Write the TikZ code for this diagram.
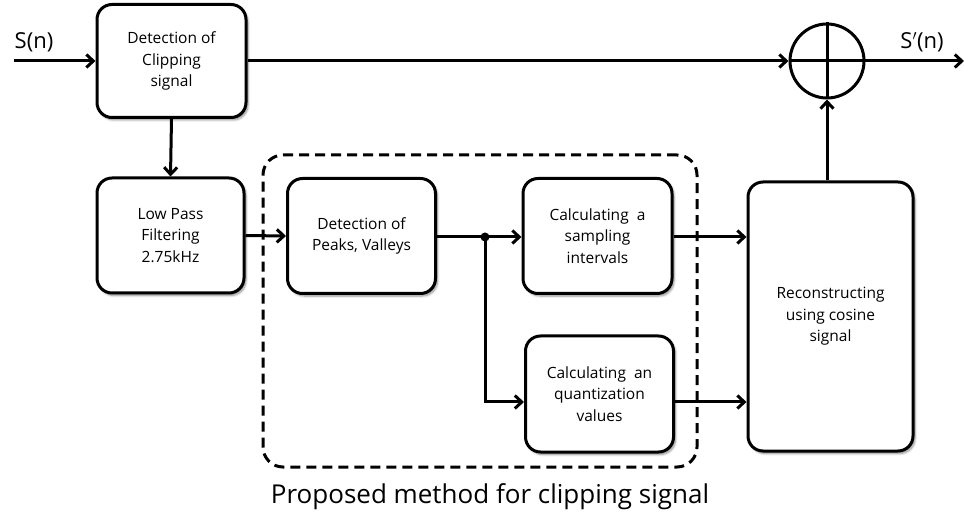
\documentclass[tikz,border=0pt]{standalone}
\usepackage{fontspec}
\setmainfont{Open Sans}
\usetikzlibrary{arrows.meta,shadows.blur,calc}
\begin{document}
\begin{tikzpicture}[x=1pt,y=-1pt,
  blk/.style={draw=black, line width=3pt, rounded corners=15pt, fill=white,
    align=center, font=\fontsize{15.5}{21.5}\selectfont, inner sep=2pt,
    blur shadow={shadow xshift=2pt, shadow yshift=-2.5pt, shadow blur steps=6, shadow opacity=45}},
  conn/.style={line width=3pt, -{Straight Barb[length=7pt,width=13pt,line width=3pt]}},
  lbl/.style={font=\fontsize{22}{24}\selectfont, inner sep=0pt}
]
\useasboundingbox (0,0) rectangle (964,518);
\node[blk, minimum width=149pt, minimum height=113pt] (clip) at (171.5,61) {Detection of\\Clipping\\signal};
\node[blk, minimum width=147pt, minimum height=115pt] (lpf) at (170.5,235.5) {Low Pass\\Filtering\\2.75kHz};
\node[blk, minimum width=148pt, minimum height=115pt] (peaks) at (361.5,236) {Detection of\\Peaks, Valleys};
\node[blk, minimum width=149pt, minimum height=115pt] (samp) at (597.5,236) {Calculating~ a\\sampling\\intervals};
\node[blk, minimum width=148pt, minimum height=116pt] (quant) at (599.5,394) {Calculating~ an\\quantization\\values};
\node[blk, minimum width=165pt, minimum height=269pt] (recon) at (830.5,316.5) {Reconstructing\\using cosine\\signal};
\node[draw, circle, line width=3pt, minimum size=74pt, inner sep=0pt] (sum) at (827,61) {};
\draw[line width=3pt] (sum.north) -- (sum.south) (sum.west) -- (sum.east);
% dashed region
\node[draw, dashed, line width=3pt, dash pattern=on 10pt off 6pt, rounded corners=20pt,
  minimum width=434pt, minimum height=312pt] (region) at (480,311) {};
\node[font=\fontsize{26}{28}\selectfont, inner sep=0pt] (cap) at (490,497) {Proposed method for clipping signal};
% input / output
\coordinate (in) at (14,61);
\coordinate (out) at (964,61);
\node[lbl] (sn) at (34,42) {S(n)};
\node[lbl] (spn) at (922,42) {S$'$(n)};
\draw[conn] (in) -- (clip.west);
\draw[conn] (clip.east) -- (sum.west);
\draw[conn] (sum.east) -- (out);
\draw[conn] (clip.south) -- (lpf.north);
\draw[conn] (lpf.east) -- (peaks.west);
\coordinate (jn) at (485,237);
\draw[conn] (peaks.east |- jn) -- (samp.west |- jn);
\coordinate (qrow) at (0,402);
\draw[conn] (jn) -- (jn |- qrow) -- (quant.west |- qrow);
\fill (jn) circle (4.5pt);
\draw[conn] (samp.east |- jn) -- (recon.west |- jn);
\draw[conn] (quant.east |- qrow) -- (recon.west |- qrow);
\draw[conn] (recon.north -| sum.south) -- (sum.south);
\end{tikzpicture}
\end{document}
